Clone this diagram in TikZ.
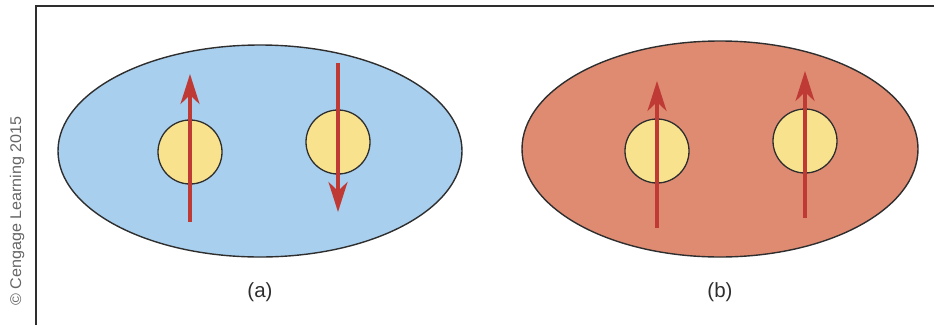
\documentclass[tikz,border=0pt]{standalone}
\usepackage{fontspec}
\setmainfont{Liberation Sans}
\usetikzlibrary{arrows.meta}
\definecolor{skyfill}{HTML}{A9CFEE}
\definecolor{salmonfill}{HTML}{DE8B72}
\definecolor{coreyellow}{HTML}{F9E28E}
\definecolor{spinred}{HTML}{BF3A35}
\definecolor{edgegray}{HTML}{2E2E2E}
\definecolor{copygray}{HTML}{666666}
\tikzset{
  cell/.style={draw=edgegray, line width=1.4pt},
  core/.style={circle, draw=edgegray, line width=1.3pt, fill=coreyellow, minimum size=64pt, inner sep=0pt},
  spin/.style={draw=spinred, line width=3.5pt, -{Stealth[length=30pt,width=19pt,inset=9pt]}},
  partlabel/.style={font=\fontsize{20.5}{24}\selectfont, text=edgegray},
}
\begin{document}
\begin{tikzpicture}[x=1pt,y=-1pt]
\useasboundingbox (0,0) rectangle (934,325);
% frame
\coordinate (fb) at (36,325);
\coordinate (fc) at (36,6);
\coordinate (fr) at (934,6);
\draw[edgegray, line width=2pt] (fb) -- (fc) -- (fr);
% copyright
\node[rotate=90, text=copygray, font=\fontsize{15.5}{18}\selectfont, inner sep=0pt] (copy) at (17,211) {\scalebox{1.04}[1]{© Cengage Learning 2015}};
% ellipses
\draw[cell, fill=skyfill] (260,151) ellipse [x radius=202, y radius=106];
\draw[cell, fill=salmonfill] (720,149) ellipse [x radius=198, y radius=108];
% cores
\node[core] (c1) at (190,152) {};
\node[core] (c2) at (338,142) {};
\node[core] (c3) at (657,151) {};
\node[core] (c4) at (805,141) {};
% spin endpoints
\coordinate (a1s) at (190,222); \coordinate (a1e) at (190,74);
\coordinate (a2s) at (338,63);  \coordinate (a2e) at (338,212);
\coordinate (a3s) at (657,228); \coordinate (a3e) at (657,81);
\coordinate (a4s) at (805,218); \coordinate (a4e) at (805,71);
\draw[spin] (a1s) -- (a1e);
\draw[spin] (a2s) -- (a2e);
\draw[spin] (a3s) -- (a3e);
\draw[spin] (a4s) -- (a4e);
% labels
\node[partlabel] (la) at (260,292) {(a)};
\node[partlabel] (lb) at (720,292) {(b)};
\end{tikzpicture}
\end{document}
